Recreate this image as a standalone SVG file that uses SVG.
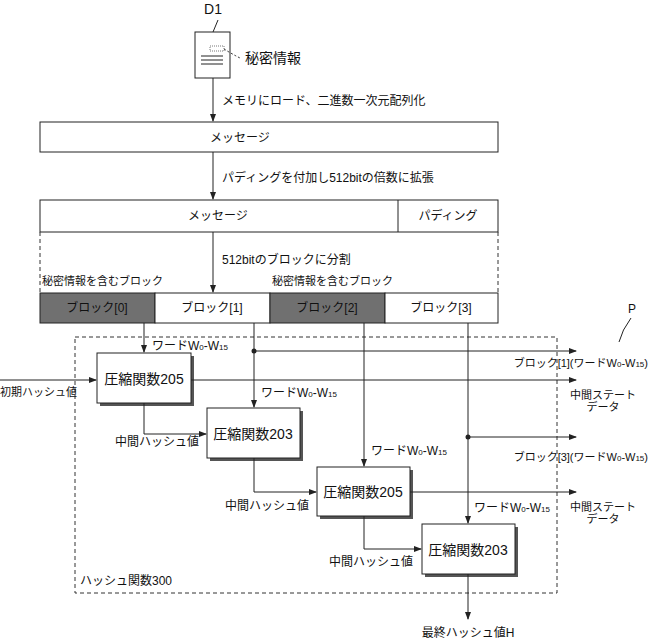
<svg xmlns="http://www.w3.org/2000/svg" width="650" height="640" viewBox="0 0 650 640">
<style>
text{font-family:"Liberation Sans","Noto Sans CJK JP",sans-serif;font-size:12px;fill:#111}
.l{stroke:#222;stroke-width:1;fill:none}
.b{fill:#fff;stroke:#222;stroke-width:1}
.g{fill:#707070;stroke:#222;stroke-width:1}
.d{stroke:#333;stroke-width:1;fill:none;stroke-dasharray:4 3}
.s{fill:#555}
.f{font-size:14px}
.c{text-anchor:middle}
.r{text-anchor:end}
.sm{font-size:11px}
</style>
<defs><marker id="a" markerWidth="8" markerHeight="6" refX="7" refY="3" orient="auto" markerUnits="userSpaceOnUse"><path d="M0,0L8,3L0,6z" fill="#222"/></marker></defs>
<rect width="650" height="640" fill="#fff"/>
<g id="doc">
<text x="213" y="14" class="c f">D1</text>
<path class="l" d="M213,32 L218,20"/>
<rect x="195" y="32" width="35" height="46" class="b"/>
<rect x="210" y="46" width="14" height="5" fill="none" stroke="#555" stroke-width="0.8" stroke-dasharray="1 1"/>
<path class="l" d="M201,56h22M201,60h22M201,64h22"/>
<path class="l" d="M224,49 Q232,54 240,58" stroke-dasharray="2 2"/>
<text x="245" y="63" class="f">秘密情報</text>
</g>
<g id="msg1"><rect x="40" y="122" width="458" height="30" class="b"/><text x="240" y="142" class="c">メッセージ</text></g>
<g id="msg2"><rect x="40" y="200" width="458" height="32" class="b"/><line x1="398" y1="200" x2="398" y2="232" class="l"/>
<text x="218" y="220" class="c">メッセージ</text><text x="448" y="220" class="c">パディング</text></g>
<g id="blocks">
<rect x="40" y="293" width="115" height="30" class="g"/><text x="97" y="312" class="c">ブロック[0]</text>
<rect x="155" y="293" width="115" height="30" class="b"/><text x="212" y="312" class="c">ブロック[1]</text>
<rect x="270" y="293" width="115" height="30" class="g"/><text x="327" y="312" class="c">ブロック[2]</text>
<rect x="385" y="293" width="113" height="30" class="b"/><text x="441" y="312" class="c">ブロック[3]</text>
</g>
<rect id="hash300" x="75" y="337" width="482" height="256" class="d"/>
<g id="f1"><rect x="100" y="356" width="94" height="50" class="s"/><rect x="97" y="353" width="94" height="50" class="b"/><text x="144" y="384" class="c f">圧縮関数205</text></g>
<g id="f2"><rect x="210" y="411" width="93" height="50" class="s"/><rect x="207" y="408" width="93" height="50" class="b"/><text x="253" y="439" class="c f">圧縮関数203</text></g>
<g id="f3"><rect x="320" y="470" width="93" height="49" class="s"/><rect x="317" y="467" width="93" height="49" class="b"/><text x="363" y="497" class="c f">圧縮関数205</text></g>
<g id="f4"><rect x="425" y="527" width="93" height="50" class="s"/><rect x="422" y="524" width="93" height="50" class="b"/><text x="468" y="555" class="c f">圧縮関数203</text></g>
<g id="connectors">
<line x1="213" y1="78" x2="213" y2="121" class="l" marker-end="url(#a)"/>
<line x1="213" y1="152" x2="213" y2="199" class="l" marker-end="url(#a)"/>
<line x1="213" y1="232" x2="213" y2="292" class="l" marker-end="url(#a)"/>
<path class="d" d="M40,232V293M498,232V293"/>
<line x1="144" y1="323" x2="144" y2="352" class="l" marker-end="url(#a)"/>
<line x1="254" y1="323" x2="254" y2="407" class="l" marker-end="url(#a)"/>
<line x1="364" y1="323" x2="364" y2="466" class="l" marker-end="url(#a)"/>
<line x1="468" y1="323" x2="468" y2="523" class="l" marker-end="url(#a)"/>
<circle cx="254" cy="351" r="2.5" fill="#222"/><circle cx="468" cy="437" r="2.5" fill="#222"/>
<line x1="254" y1="351" x2="576" y2="351" class="l" marker-end="url(#a)"/>
<line x1="191" y1="380" x2="576" y2="380" class="l" marker-end="url(#a)"/>
<line x1="468" y1="437" x2="576" y2="437" class="l" marker-end="url(#a)"/>
<line x1="410" y1="492" x2="576" y2="492" class="l" marker-end="url(#a)"/>
<line x1="0" y1="380" x2="96" y2="380" class="l" marker-end="url(#a)"/>
<path class="l" d="M144,403V434H206" marker-end="url(#a)"/>
<path class="l" d="M254,458V492H316" marker-end="url(#a)"/>
<path class="l" d="M364,516V549H421" marker-end="url(#a)"/>
<line x1="468" y1="574" x2="468" y2="619" class="l" marker-end="url(#a)"/>
<path class="l" d="M631,318 Q622,330 619,342"/>
</g>
<g id="labels">
<text x="222" y="105">メモリにロード、二進数一次元配列化</text>
<text x="222" y="182">パディングを付加し512bitの倍数に拡張</text>
<text x="222" y="264">512bitのブロックに分割</text>
<text x="42" y="285" class="sm">秘密情報を含むブロック</text>
<text x="272" y="285" class="sm">秘密情報を含むブロック</text>
<text x="152" y="350">ワードW<tspan font-size="8">0</tspan>-W<tspan font-size="8">15</tspan></text>
<text x="261" y="397">ワードW<tspan font-size="8">0</tspan>-W<tspan font-size="8">15</tspan></text>
<text x="371" y="455">ワードW<tspan font-size="8">0</tspan>-W<tspan font-size="8">15</tspan></text>
<text x="474" y="512">ワードW<tspan font-size="8">0</tspan>-W<tspan font-size="8">15</tspan></text>
<text x="648" y="367" class="r sm">ブロック[1](ワードW<tspan font-size="8">0</tspan>-W<tspan font-size="8">15</tspan>)</text>
<text x="648" y="461" class="r sm">ブロック[3](ワードW<tspan font-size="8">0</tspan>-W<tspan font-size="8">15</tspan>)</text>
<text x="603" y="399" class="c sm">中間ステート</text><text x="603" y="411" class="c sm">データ</text>
<text x="603" y="511" class="c sm">中間ステート</text><text x="603" y="523" class="c sm">データ</text>
<text x="0" y="396" class="sm">初期ハッシュ値</text>
<text x="199" y="446" class="r">中間ハッシュ値</text>
<text x="309" y="510" class="r">中間ハッシュ値</text>
<text x="413" y="566" class="r">中間ハッシュ値</text>
<text x="80" y="585">ハッシュ関数300</text>
<text x="468" y="637" class="c">最終ハッシュ値H</text>
<text x="632" y="313" class="c">P</text>
</g>
</svg>
